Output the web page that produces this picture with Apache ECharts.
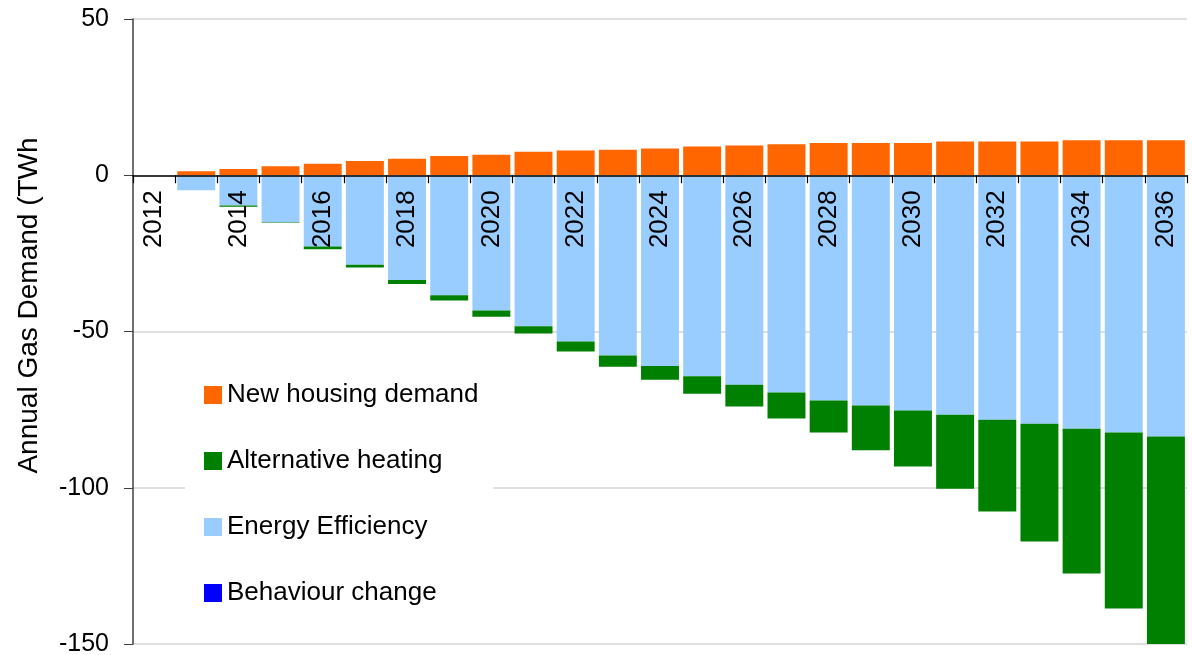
<!DOCTYPE html>
<html>
<head>
<meta charset="utf-8">
<script src="https://cdn.jsdelivr.net/npm/echarts@6/dist/echarts.min.js"></script>
<style>
  html, body { margin: 0; padding: 0; background: #fff; }
  #chart { width: 1192px; height: 655px; }
</style>
</head>
<body>
<div id="chart"></div>
<script>
// years on the x axis
const years = ['2012', '2013', '2014', '2015', '2016', '2017', '2018', '2019', '2020', '2021',
  '2022', '2023', '2024', '2025', '2026', '2027', '2028', '2029', '2030', '2031',
  '2032', '2033', '2034', '2035', '2036'];
// TWh
const newHousing = [0, 1.3, 2.0, 2.9, 3.7, 4.6, 5.3, 6.2, 6.6, 7.5,
  7.9, 8.2, 8.6, 9.2, 9.5, 9.9, 10.3, 10.3, 10.3, 10.8,
  10.8, 10.8, 11.2, 11.2, 11.2];
const energyEfficiency = [0, -4.8, -9.7, -15.0, -22.8, -28.6, -33.5, -38.4, -43.3, -48.3,
  -53.2, -57.7, -61.0, -64.3, -67.0, -69.5, -72.1, -73.7, -75.3, -76.6,
  -78.2, -79.5, -81.1, -82.3, -83.6];
const altHeating = [0, 0, -0.4, -0.2, -0.9, -0.9, -1.3, -1.7, -2.0, -2.3,
  -3.2, -3.6, -4.4, -5.6, -7.0, -8.3, -10.2, -14.3, -17.9, -23.7,
  -29.4, -37.7, -46.3, -56.3, -66.6];
const behaviour = [0, 0, 0, 0, 0, 0, 0, 0, 0, 0,
  0, 0, 0, 0, 0, 0, 0, 0, 0, 0,
  0, 0, 0, 0, 0];
const yTicks = { min: -150, max: 50, step: 50 };

const font = 'Liberation Sans, Arial, sans-serif';
const gridTop = 19, gridBottom = 11;
const plotH = 655 - gridTop - gridBottom;
// x axis sits on the zero line: shift it up from the grid bottom
const zeroOffset = -plotH * (0 - yTicks.min) / (yTicks.max - yTicks.min);

var chart = echarts.init(document.getElementById('chart'));

var option = {
  animation: false,
  textStyle: { fontFamily: font },
  grid: { left: 133, right: 5, top: gridTop, bottom: gridBottom, containLabel: false, outerBoundsMode: 'none' },
  legend: {
    orient: 'vertical',
    left: 185,
    top: 370,
    padding: [12, 15, 12, 19],
    backgroundColor: '#fff',
    itemWidth: 18,
    itemHeight: 18,
    itemGap: 40,
    icon: 'rect',
    textStyle: { fontSize: 26, color: '#000', fontFamily: font },
    data: ['New housing demand', 'Alternative heating', 'Energy Efficiency', 'Behaviour change']
  },
  xAxis: {
    type: 'category',
    data: years,
    position: 'bottom',
    offset: zeroOffset,
    z: 5,
    axisLine: { onZero: false, lineStyle: { color: '#000', width: 1.5 } },
    axisTick: { show: true, interval: 0, length: 8, lineStyle: { color: '#000', width: 1.2 } },
    axisLabel: {
      interval: 1,
      rotate: 90,
      margin: 15,
      fontSize: 26,
      color: '#000',
      fontFamily: font
    },
    splitLine: { show: false }
  },
  yAxis: {
    type: 'value',
    min: yTicks.min,
    max: yTicks.max,
    interval: yTicks.step,
    name: 'Annual Gas Demand (TWh',
    nameLocation: 'middle',
    nameGap: 90,
    nameTextStyle: { fontSize: 28, color: '#000', fontFamily: font, padding: [0, 0, 0, 52] },
    axisLine: { show: true, lineStyle: { color: '#404040', width: 1.5 } },
    axisTick: { show: true, length: 9, lineStyle: { color: '#404040' } },
    axisLabel: { fontSize: 25, color: '#000', margin: 24, fontFamily: font },
    splitLine: { show: true, lineStyle: { color: '#d4d4d4', width: 1.5 } }
  },
  series: [
    {
      name: 'New housing demand',
      type: 'bar',
      stack: 'total',
      barCategoryGap: '10%',
      data: newHousing,
      itemStyle: { color: '#ff6600' }
    },
    {
      name: 'Energy Efficiency',
      type: 'bar',
      stack: 'total',
      data: energyEfficiency,
      itemStyle: { color: '#99ccff' }
    },
    {
      name: 'Alternative heating',
      type: 'bar',
      stack: 'total',
      data: altHeating,
      itemStyle: { color: '#008000' }
    },
    {
      name: 'Behaviour change',
      type: 'bar',
      stack: 'total',
      data: behaviour,
      itemStyle: { color: '#0000ff' }
    }
  ]
};
chart.setOption(option);
</script>
</body>
</html>
